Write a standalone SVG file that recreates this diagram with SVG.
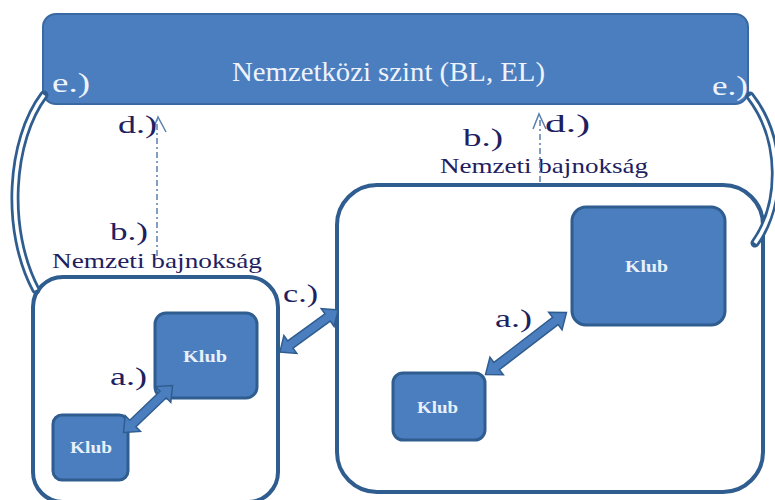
<svg xmlns="http://www.w3.org/2000/svg" width="775" height="500" viewBox="0 0 775 500">
<defs>
<style>
text{font-family:"Liberation Serif","Times New Roman",serif}
.box{fill:#ffffff;stroke:#2f5d8f;stroke-width:4}
.klub{fill:#4a7ebf;stroke:#2f5d8f;stroke-width:3}
.klubt{font-size:17px;font-weight:bold;fill:#e8f0fa}
.lbl{font-size:25px;fill:#1e2060}
.nb{font-size:22px;fill:#1e2060}
.wl{font-size:28px;fill:#eef3fb}
.blk{fill:#4a7ebf;stroke:#2f5d8f;stroke-width:1.5}
.dash{fill:none;stroke:#5a7fb0;stroke-width:1.5;stroke-dasharray:6 3 2 3}
.head{fill:none;stroke:#5a7fb0;stroke-width:1.5}
.cout{fill:none;stroke:#2f5d8f;stroke-width:9;stroke-linecap:round}
.cin{fill:none;stroke:#ffffff;stroke-width:3.5}
</style>
</defs>
<rect width="775" height="500" fill="#ffffff"/>

<g id="intl">
<rect x="43" y="14" width="705" height="90" rx="13" fill="#4a7ebf" stroke="#3a68a3" stroke-width="2"/>
<text class="wl" x="232" y="81" textLength="313" lengthAdjust="spacingAndGlyphs">Nemzetközi szint (BL, EL)</text>
<text class="wl" x="52" y="92" textLength="38" lengthAdjust="spacingAndGlyphs">e.)</text>
<text class="wl" x="712" y="95" textLength="36" lengthAdjust="spacingAndGlyphs">e.)</text>
</g>

<g id="nat-left">
<rect class="box" x="33" y="277" width="245" height="225" rx="30"/>
<text class="nb" x="52" y="268" textLength="210" lengthAdjust="spacingAndGlyphs">Nemzeti bajnokság</text>
<text class="lbl" x="110" y="240" textLength="38" lengthAdjust="spacingAndGlyphs">b.)</text>
</g>

<g id="nat-right">
<rect class="box" x="337" y="185" width="426" height="307" rx="40"/>
<text class="nb" x="440" y="173" textLength="208" lengthAdjust="spacingAndGlyphs">Nemzeti bajnokság</text>
<text class="lbl" x="463" y="146" textLength="40" lengthAdjust="spacingAndGlyphs">b.)</text>
</g>

<g id="klub-l1">
<rect class="klub" x="155" y="313" width="102" height="85" rx="11"/>
<text class="klubt" x="183" y="362" textLength="44" lengthAdjust="spacingAndGlyphs">Klub</text>
</g>
<g id="klub-l2">
<rect class="klub" x="53" y="415" width="75" height="65" rx="9"/>
<text class="klubt" x="70" y="453" textLength="42" lengthAdjust="spacingAndGlyphs">Klub</text>
</g>
<g id="klub-r1">
<rect class="klub" x="572" y="207" width="153" height="118" rx="14"/>
<text class="klubt" x="625" y="272" textLength="43" lengthAdjust="spacingAndGlyphs">Klub</text>
</g>
<g id="klub-r2">
<rect class="klub" x="393" y="373" width="92" height="67" rx="10"/>
<text class="klubt" x="417" y="413" textLength="41" lengthAdjust="spacingAndGlyphs">Klub</text>
</g>

<g id="connectors">
<!-- a.) left -->
<polygon class="blk" transform="translate(148,409) rotate(-43.8)" points="-34,0 -21,-11 -21,-4.5 21,-4.5 21,-11 34,0 21,11 21,4.5 -21,4.5 -21,11"/>
<text class="lbl" x="110" y="385" textLength="37" lengthAdjust="spacingAndGlyphs">a.)</text>
<!-- a.) right -->
<polygon class="blk" transform="translate(526,343.5) rotate(-37.5)" points="-51,0 -37,-11 -37,-4.5 37,-4.5 37,-11 51,0 37,11 37,4.5 -37,4.5 -37,11"/>
<text class="lbl" x="495" y="327" textLength="37" lengthAdjust="spacingAndGlyphs">a.)</text>
<!-- c.) -->
<polygon class="blk" transform="translate(309,331) rotate(-35.9)" points="-36,0 -23,-11 -23,-4.5 23,-4.5 23,-11 36,0 23,11 23,4.5 -23,4.5 -23,11"/>
<text class="lbl" x="283" y="302" textLength="35" lengthAdjust="spacingAndGlyphs">c.)</text>
<!-- d.) left -->
<line class="dash" x1="157" y1="256" x2="157" y2="120"/>
<polyline class="head" points="152,132 158,117 166,132"/>
<text class="lbl" x="118" y="133" textLength="39" lengthAdjust="spacingAndGlyphs">d.)</text>
<!-- d.) right -->
<line class="dash" x1="540" y1="182" x2="540" y2="120"/>
<polyline class="head" points="533,129 539,114 546,129"/>
<text class="lbl" x="545" y="132" textLength="45" lengthAdjust="spacingAndGlyphs">d.)</text>
<!-- e.) left curve -->
<path class="cout" d="M44,95 C10,140 4,230 36,290"/>
<path class="cin" d="M44,95 C10,140 4,230 36,290"/>
<!-- e.) right curve -->
<path class="cout" d="M750,96 C784,140 782,205 755,243"/>
<path class="cin" d="M750,96 C784,140 782,205 755,243"/>
</g>
</svg>
